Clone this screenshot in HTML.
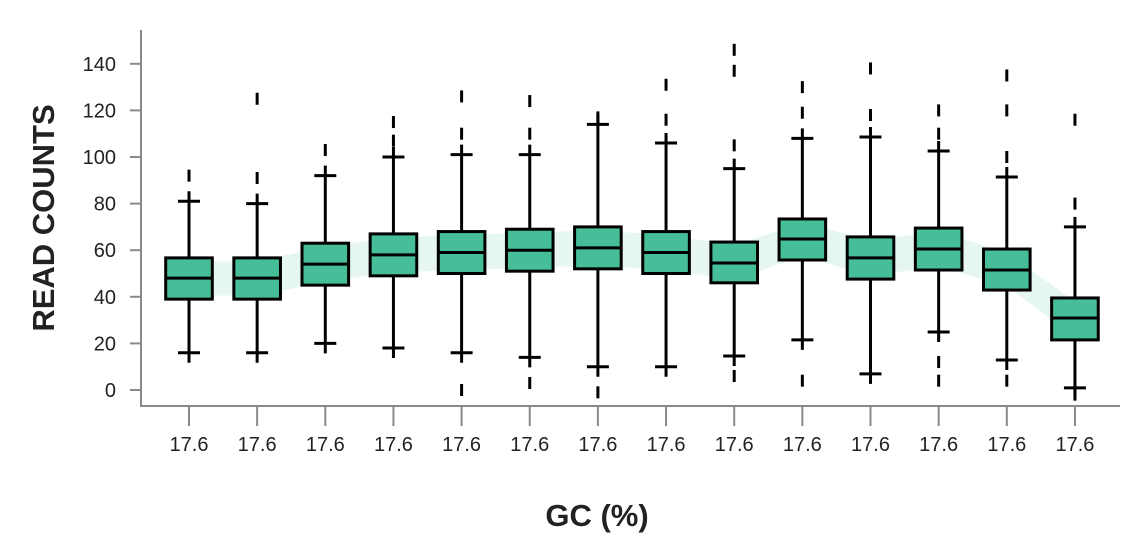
<!DOCTYPE html>
<html><head><meta charset="utf-8"><style>
body{margin:0;background:#fff;}
svg{display:block;font-family:"Liberation Sans",sans-serif;}
</style></head><body>
<svg id="chart" width="1148" height="560" xmlns="http://www.w3.org/2000/svg"></svg>
<script>
const categories = ["17.6","17.6","17.6","17.6","17.6","17.6","17.6","17.6","17.6","17.6","17.6","17.6","17.6","17.6"];
const lowWhisker = [16,16,20,18,16,14,10,10,14.6,21.5,6.9,24.9,12.9,0.9];
const q1Values = [39,39,45,49,50,51,52,50,46,55.8,47.6,51.5,42.9,21.5];
const medianValues = [48,48,54,58,59,60,61,59,54.5,64.8,56.7,60.5,51.5,30.9];
const q3Values = [56.7,56.7,63,67,68,69,70,68,63.5,73.4,65.7,69.5,60.5,39.5];
const highWhisker = [81,80,92,100,101,101,114,106,95,108,108.6,102.6,91.4,70];
const outliers = [[92],[91,125],[103],[107,115],[0,110,126],[3,110,124],[-1,117],[116,131],[6,105,137,146],[4,119,130],[118,138],[4,12,110,120],[4,100,120,135],[-2,80,116]];
const yTicks = [0,20,40,60,80,100,120,140];

const svgEl = document.getElementById('chart');
const NS = 'http://www.w3.org/2000/svg';
const yScale = v => 390 - v * 2.33;
const xScale = i => 189 + i * 68.15;
const HW = 23.3;
function mk(tag, attrs, parent){ const e=document.createElementNS(NS,tag); for(const k in attrs) e.setAttribute(k,attrs[k]); (parent||svgEl).appendChild(e); return e; }

let bandTop=[], bandBot=[];
categories.forEach((c,i)=>{ bandTop.push(xScale(i)+','+yScale(q3Values[i]-1.5)); bandBot.unshift(xScale(i)+','+yScale(q1Values[i]+1.5)); });
const band = mk('polygon',{points:bandTop.concat(bandBot).join(' '),fill:'#e6f6f0'});



const ya = mk('line',{x1:141,y1:30,x2:141,y2:406,stroke:'#8a8a8a','stroke-width':2});


const xa = mk('line',{x1:140,y1:406,x2:1120,y2:406,stroke:'#8a8a8a','stroke-width':2});



yTicks.forEach(t=>{
  mk('line',{x1:130,y1:yScale(t),x2:141,y2:yScale(t),stroke:'#8a8a8a','stroke-width':2});
  const tx = mk('text',{x:116,y:yScale(t)+7,'text-anchor':'end','font-size':20,fill:'#222'});
  tx.textContent = t;
  
  
});

categories.forEach((c,i)=>{
  const cx = xScale(i);
  mk('line',{x1:cx,y1:406,x2:cx,y2:426,stroke:'#8a8a8a','stroke-width':2});
  const tl = mk('text',{x:cx,y:451,'text-anchor':'middle','font-size':20,fill:'#222'});
  tl.textContent = c;
  
  
  const g = mk('g',{});
  
  
  const st = {stroke:'#000','stroke-width':3};
  mk('line',Object.assign({x1:cx,y1:yScale(highWhisker[i])-10,x2:cx,y2:yScale(q3Values[i])},st),g);
  mk('line',Object.assign({x1:cx,y1:yScale(lowWhisker[i])+10,x2:cx,y2:yScale(q1Values[i])},st),g);
  mk('line',Object.assign({x1:cx-11,y1:yScale(highWhisker[i]),x2:cx+11,y2:yScale(highWhisker[i])},st),g);
  mk('line',Object.assign({x1:cx-11,y1:yScale(lowWhisker[i]),x2:cx+11,y2:yScale(lowWhisker[i])},st),g);
  mk('rect',{x:cx-HW,y:yScale(q3Values[i]),width:2*HW,height:yScale(q1Values[i])-yScale(q3Values[i]),fill:'#46be99',stroke:'#000','stroke-width':3},g);
  mk('line',Object.assign({x1:cx-HW,y1:yScale(medianValues[i]),x2:cx+HW,y2:yScale(medianValues[i])},st),g);
  outliers[i].forEach(o=>{
    const d = mk('line',Object.assign({x1:cx,y1:yScale(o)-6,x2:cx,y2:yScale(o)+6},st),g);
    
    
  });
});

const yt = mk('text',{x:0,y:0,transform:'translate(54,218) rotate(-90)','text-anchor':'middle','font-size':31,'font-weight':'bold',fill:'#222'});
yt.textContent = 'READ COUNTS';


const xt = mk('text',{x:597,y:526,'text-anchor':'middle','font-size':31,'font-weight':'bold',fill:'#222'});
xt.textContent = 'GC (%)';


</script>
</body></html>
